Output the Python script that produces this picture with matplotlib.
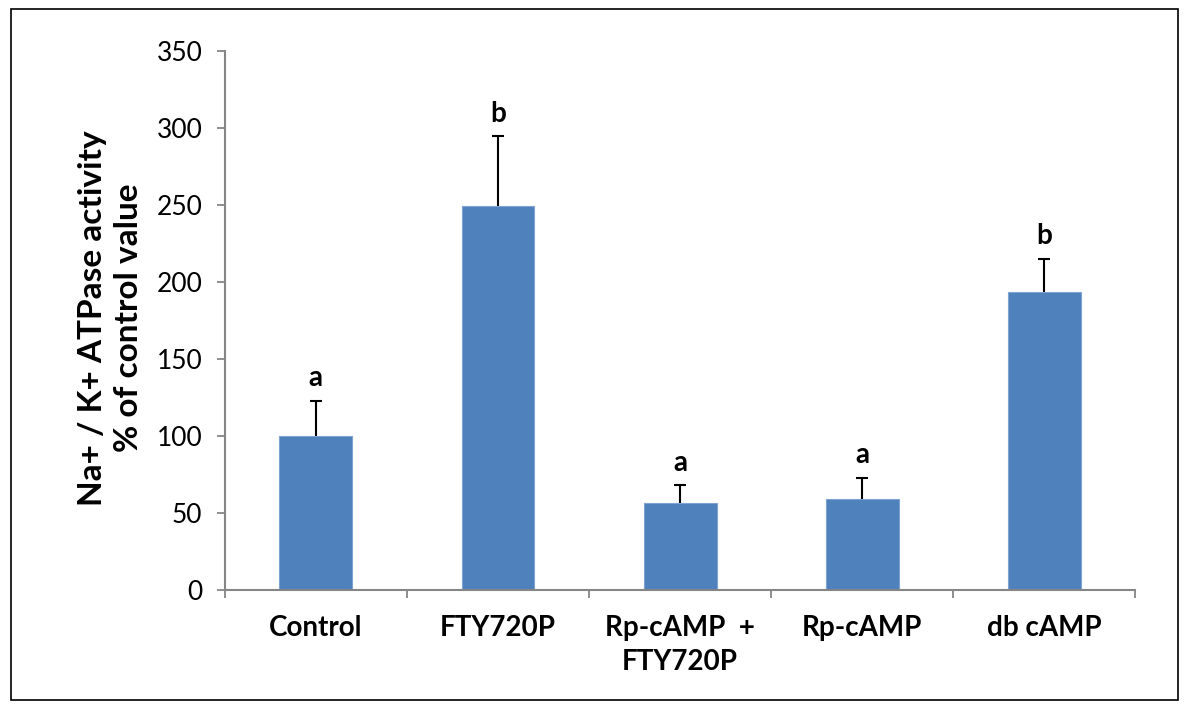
import matplotlib.pyplot as plt
from matplotlib.patches import Rectangle

categories = ["Control", "FTY720P", "Rp-cAMP  +\nFTY720P", "Rp-cAMP", "db cAMP"]
values = [100, 249.5, 56.5, 59, 193.5]
errors = [23, 45, 11.5, 14, 21.5]
letters = ["a", "b", "a", "a", "b"]

plt.rcParams['font.family'] = ['Lato', 'DejaVu Sans']

fig = plt.figure(figsize=(11.89, 7.18), dpi=100)
ax = fig.add_axes([0.189, 0.178, 0.766, 0.751])

x = range(len(categories))
ax.bar(x, values, width=0.4, color='#4F81BD', edgecolor='#7FA3D3', linewidth=0.8, zorder=2)
eb = ax.errorbar(x, values, yerr=[[0] * len(errors), errors], fmt='none',
                 ecolor='black', elinewidth=1.5, capsize=4.5, capthick=1.5, zorder=3)
# hide the lower caps, only the upper half of the bars is shown
eb[1][0].set_visible(False)

for i, (v, e, l) in enumerate(zip(values, errors, letters)):
    ax.annotate(l, (i, v + e), xytext=(0, 7), textcoords='offset points',
                ha='center', va='bottom', fontsize=20, fontweight='bold')

ax.set_ylim(0, 350)
ax.set_xlim(-0.5, len(categories) - 0.5)
ax.set_yticks(range(0, 351, 50))
ax.tick_params(axis='y', labelsize=19, length=6, width=1.3, color='#868686', pad=10)

ax.set_xticks(list(x))
ax.set_xticklabels(categories, fontsize=20, fontweight='bold', linespacing=1.35)
ax.tick_params(axis='x', length=0, pad=18)
ax.set_xticks([i + 0.5 for i in range(-1, len(categories))], minor=True)
ax.tick_params(axis='x', which='minor', length=6, width=1.3, color='#868686')

for s in ['top', 'right']:
    ax.spines[s].set_visible(False)
for s in ['left', 'bottom']:
    ax.spines[s].set_color('#868686')
    ax.spines[s].set_linewidth(1.5)

ax.set_ylabel("Na+ / K+ ATPase activity\n% of control value", fontsize=24,
              fontweight='bold', linespacing=1.3)
ax.yaxis.set_label_coords(-0.090, 0.505)

fig.patches.append(Rectangle((0.009, 0.025), 0.982, 0.963, transform=fig.transFigure,
                             fill=False, edgecolor='black', linewidth=1.2))

fig.savefig("out.png", dpi=100)
